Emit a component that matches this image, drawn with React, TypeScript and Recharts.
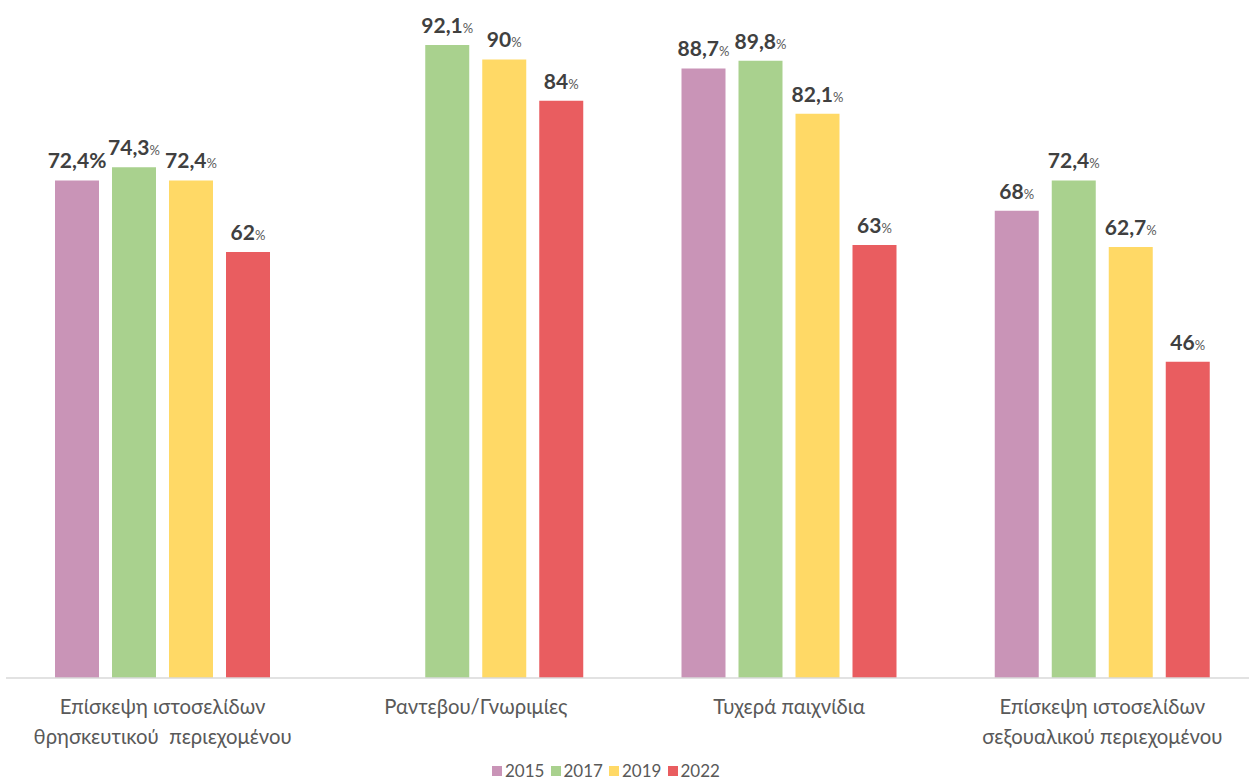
import React from 'react';
import { BarChart, Bar, XAxis, YAxis, Legend, LabelList } from 'recharts';

const categories = [
  'Επίσκεψη ιστοσελίδων\nθρησκευτικού  περιεχομένου',
  'Ραντεβου/Γνωριμίες',
  'Τυχερά παιχνίδια',
  'Επίσκεψη ιστοσελίδων\nσεξουαλικού περιεχομένου',
];
const years = ['2015', '2017', '2019', '2022'];
const values2015: (number | null)[] = [72.4, null, 88.7, 68];
const values2017: (number | null)[] = [74.3, 92.1, 89.8, 72.4];
const values2019: (number | null)[] = [72.4, 90, 82.1, 62.7];
const values2022: (number | null)[] = [62, 84, 63, 46];
const seriesValues = [values2015, values2017, values2019, values2022];
const colors = ['#C994B7', '#A9D18E', '#FFD966', '#E95D60'];

const data = categories.map((c, i) => {
  const row: any = { name: c };
  years.forEach((y, k) => {
    row['y' + y] = seriesValues[k][i];
  });
  return row;
});

const FONT = 'Lato, "DejaVu Sans", sans-serif';

const makeLabel = (seriesIdx: number) => (props: any) => {
  const { x, y, width, value, index } = props;
  if (value === null || value === undefined) return null;
  const cx = Number(x) + Number(width) / 2;
  const txt = String(value).replace('.', ',');
  const bigPct = seriesIdx === 0 && index === 0;
  return (
    <text x={cx} y={Number(y) - 12} textAnchor="middle" fontFamily={FONT}>
      <tspan fill="#404040" fontWeight="bold" fontSize={21}>{txt}</tspan>
      <tspan fill={bigPct ? '#404040' : '#595959'} fontWeight={bigPct ? 'bold' : 'normal'} fontSize={bigPct ? 21 : 13}>%</tspan>
    </text>
  );
};

const CatTick = (props: any) => {
  const { x, y, payload } = props;
  const lines = String(payload.value).split('\n');
  return (
    <text x={x} y={y} textAnchor="middle" fill="#595959" fontFamily={FONT} fontSize={20.3} style={{ whiteSpace: 'pre' }}>
      {lines.map((l, i) => (
        <tspan key={i} x={x} dy={i === 0 ? 36 : 30}>{l}</tspan>
      ))}
    </text>
  );
};

const LegendContent = () => (
  <div style={{ display: 'flex', height: 26, alignItems: 'center', fontFamily: FONT, fontSize: 17, color: '#595959', lineHeight: '20px' }}>
    {years.map((y, k) => (
      <div key={y} style={{ display: 'flex', alignItems: 'center', width: 58.5 }}>
        <span style={{ display: 'inline-block', width: 10, height: 10, background: colors[k], marginRight: 3 }} />
        <span>{y}</span>
      </div>
    ))}
  </div>
);

export default function App() {
  return (
    <div style={{ position: 'absolute', left: 0, top: 0, width: 1260, height: 784, background: '#fff' }}>
      <BarChart
        width={1260}
        height={784}
        data={data}
        margin={{ top: 0, right: 1, bottom: 0, left: 6 }}
        barSize={44}
        barGap={13}
      >
        <XAxis
          dataKey="name"
          interval={0}
          height={80}
          tickLine={false}
          tickSize={0}
          tickMargin={0}
          axisLine={{ stroke: '#D9D9D9', strokeWidth: 1.3 }}
          tick={<CatTick />}
        />
        <YAxis hide domain={[0, 98.65]} />
        <Legend
          verticalAlign="bottom"
          height={26}
          wrapperStyle={{ left: 492, width: 250 }}
          content={<LegendContent />}
        />
        {years.map((y, k) => (
          <Bar key={y} dataKey={'y' + y} fill={colors[k]} isAnimationActive={false}>
            <LabelList dataKey={'y' + y} content={makeLabel(k)} />
          </Bar>
        ))}
      </BarChart>
    </div>
  );
}
